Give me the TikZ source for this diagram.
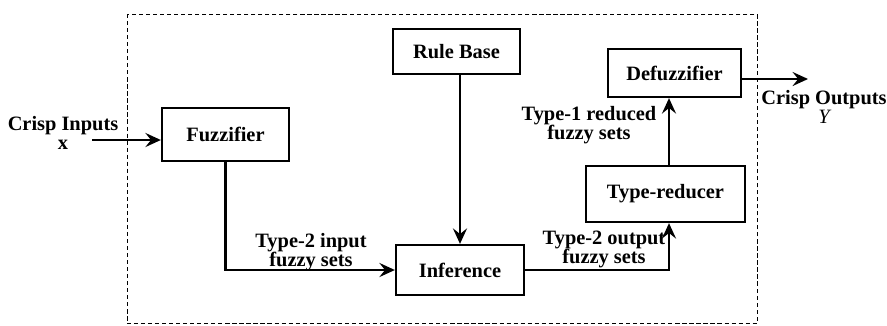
\documentclass[tikz,border=0pt]{standalone}
\usepackage{fontspec}
\setmainfont{Liberation Serif}
\usetikzlibrary{arrows.meta}

\begin{document}
\begin{tikzpicture}[x=0.025cm, y=-0.025cm,
    font=\fontsize{14.5}{13.5}\selectfont\bfseries,
    block/.style={draw, line width=1.6pt, inner sep=0pt},
    flow/.style={line width=1.6pt,
        -{Stealth[length=11pt, width=10pt, inset=4pt]}},
    lbl/.style={align=center, inner sep=0pt}]
\useasboundingbox (0,0) rectangle (887,325);
% system boundary
\draw[line width=0.6pt, dash pattern=on 3pt off 2pt]
    (127,14) rectangle (757,323.5);
% blocks
\node[block, minimum width=3.175cm, minimum height=1.325cm]
    (fuzz) at (225.5,134.5) {Fuzzifier};
\node[block, minimum width=3.175cm, minimum height=1.125cm]
    (rules) at (456.5,51.5) {Rule Base};
\node[block, minimum width=3.2cm, minimum height=1.25cm]
    (infer) at (460,270) {Inference};
\node[block, minimum width=3.975cm, minimum height=1.4cm]
    (reducer) at (665.5,194) {Type-reducer};
\node[block, minimum width=3.325cm, minimum height=1.2cm]
    (defuzz) at (674.5,73) {Defuzzifier};
% labels
\node[lbl] (inputs) at (63,133) {Crisp Inputs\\x};
\node[lbl] (outputs) at (824,107) {Crisp Outputs\\{\mdseries\itshape Y}};
\node[lbl] (t2in) at (311,252) {Type-2 input\\fuzzy sets};
\node[lbl] (t2out) at (604,249) {Type-2 output\\fuzzy sets};
\node[lbl] (t1red) at (589,125) {Type-1 reduced\\fuzzy sets};
% connectors
\coordinate (inpt) at (92,140);
\coordinate (turn) at (669,270);
\coordinate (outpt) at (808,79);
\draw[flow] (inpt) -- (fuzz.west |- inpt);
\draw[flow] (fuzz.south) |- (infer.west);
\draw[flow] (rules.south -| infer.north) -- (infer.north);
\draw[flow] (infer.east) -| (reducer.south -| turn);
\draw[flow] (reducer.north -| turn) -- (defuzz.south -| turn);
\draw[flow] (defuzz.east |- outpt) -- (outpt);
\end{tikzpicture}
\end{document}
